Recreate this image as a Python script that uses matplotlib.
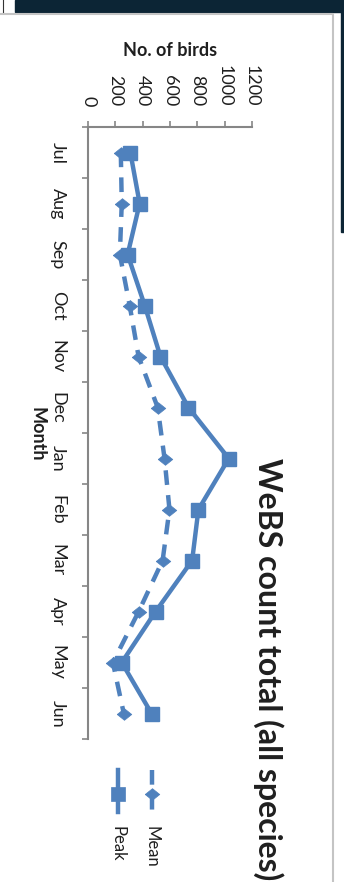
import numpy as np
import matplotlib
matplotlib.use("Agg")
import matplotlib.pyplot as plt
from matplotlib.lines import Line2D
from matplotlib.patches import Rectangle

# WeBS monthly counts (all species)
months = ["Jul", "Aug", "Sep", "Oct", "Nov", "Dec",
          "Jan", "Feb", "Mar", "Apr", "May", "Jun"]
mean_counts = [240, 247, 233, 305, 370, 510, 560, 596, 546, 371, 182, 262]
peak_counts = [310, 378, 290, 415, 530, 735, 1030, 808, 762, 495, 247, 465]
value_ticks = [0, 200, 400, 600, 800, 1000, 1200]

title = "WeBS count total (all species)"
value_label = "No. of birds"
month_label = "Month"
series_names = ["Mean", "Peak"]

BLUE = "#4F81BD"
AXIS_GREY = "#868686"
TEXT = "#1f1f1f"
NAVY = "#0c2535"

# slightly flattened diamond marker
DIAMOND = [(-1, 0), (0, 0.8), (1, 0), (0, -0.8), (-1, 0)]
DASH = (0, (3.3, 2.3))

plt.rcParams["font.family"] = ["Lato", "DejaVu Sans"]

W, H = 344, 882
fig = plt.figure(figsize=(W / 100, H / 100), dpi=100)
fig.patch.set_facecolor("white")


def fx(x):
    return x / W


def fy(y):
    return 1 - y / H


# window chrome around the chart
fig.patches.append(Rectangle((fx(15), fy(12)), fx(W - 15), 12 / H,
                             transform=fig.transFigure, color=NAVY, zorder=0))
fig.patches.append(Rectangle((fx(341), fy(232)), fx(3), 232 / H,
                             transform=fig.transFigure, color=NAVY, zorder=0))
fig.lines.append(Line2D([fx(3), fx(3)], [fy(0), fy(12)], transform=fig.transFigure,
                        color="#333333", lw=0.8))
# chart area border
fig.lines.append(Line2D([fx(0), fx(333), fx(333)], [fy(14), fy(14), fy(H)],
                        transform=fig.transFigure, color="#c4c4c4", lw=1.5))

# plot area: values run left-to-right, months top-to-bottom
x0, x1 = 88, 252
y0, y1 = 127, 739
ax = fig.add_axes([fx(x0), fy(y1), fx(x1 - x0), (y1 - y0) / H])
ax.set_facecolor("none")

pos = np.arange(len(months)) + 0.5
ax.plot(mean_counts, pos, color=BLUE, lw=3.2, linestyle=DASH,
        marker=DIAMOND, markersize=10.5, markeredgewidth=0.5,
        markeredgecolor=BLUE, markerfacecolor=BLUE,
        dash_capstyle="butt", zorder=3)
ax.plot(peak_counts, pos, color=BLUE, lw=3.2, linestyle="-",
        marker="s", markersize=9.5, markeredgewidth=1, markeredgecolor=BLUE,
        markerfacecolor=BLUE, zorder=4)

ax.set_xlim(0, 1200)
ax.set_ylim(len(months), 0)

for side in ("right", "bottom"):
    ax.spines[side].set_visible(False)
for side in ("left", "top"):
    ax.spines[side].set_color(AXIS_GREY)
    ax.spines[side].set_linewidth(1.5)

ax.xaxis.tick_top()
ax.set_xticks(value_ticks)
ax.set_xticklabels([str(v) for v in value_ticks], rotation=-90,
                   fontsize=13, color=TEXT)
ax.tick_params(axis="x", direction="out", length=4, width=1.2,
               color=AXIS_GREY, pad=11)
for lab in ax.get_xticklabels():
    lab.set_va("bottom")
    lab.set_ha("center")

ax.set_yticks(np.arange(len(months) + 1))
ax.set_yticklabels([])
ax.tick_params(axis="y", which="major", direction="out", length=4, width=1.2,
               color=AXIS_GREY)
ax.set_yticks(pos, minor=True)
ax.set_yticklabels(months, minor=True, rotation=-90, fontsize=13, color=TEXT)
ax.tick_params(axis="y", which="minor", length=0, pad=16)
for lab in ax.get_yticklabels(minor=True):
    lab.set_va("center")
    lab.set_ha("right")

# axis titles and chart title
fig.text(fx(170), fy(50), value_label, ha="center", va="center",
         fontsize=13, fontweight="bold", color=TEXT)
fig.text(fx(37), fy(434), month_label, ha="center", va="center",
         rotation=-90, fontsize=13, fontweight="bold", color=TEXT)
fig.text(fx(268), fy(669), title, ha="center", va="center",
         rotation=-90, fontsize=23, fontweight="bold", color=TEXT)

# legend, drawn vertically
legend_items = [(152, DIAMOND, 10.5, DASH), (118, "s", 9.5, "-")]
for (lx, mk, ms, ls), name in zip(legend_items, series_names):
    fig.lines.append(Line2D([fx(lx), fx(lx)], [fy(770), fy(812)],
                            transform=fig.transFigure, color=BLUE, lw=3.2,
                            linestyle=ls, dash_capstyle="butt"))
    fig.lines.append(Line2D([fx(lx)], [fy(794)], transform=fig.transFigure,
                            color=BLUE, marker=mk, markersize=ms,
                            markeredgewidth=0.5, linestyle="none"))
    fig.text(fx(lx), fy(826), name, ha="center", va="top", rotation=-90,
             fontsize=12, color=TEXT)

fig.savefig("out.png", dpi=100, facecolor="white")
